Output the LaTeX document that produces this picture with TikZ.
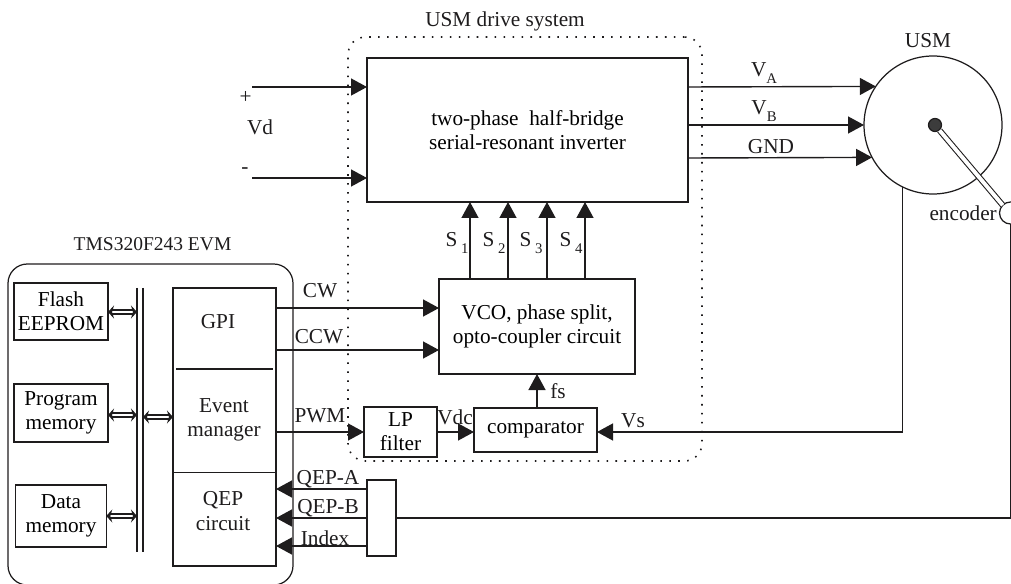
\documentclass[tikz,border=0pt]{standalone}
\usepackage{xcolor}
\usepackage{fontspec}
\setmainfont{Liberation Serif}
\usepackage{tikz}
\usetikzlibrary{arrows.meta,positioning}
\definecolor{edge}{HTML}{1E1C1D}
\definecolor{hub}{HTML}{3C3C3C}
\newcommand{\lowidx}[1]{\raisebox{-2pt}{\fontsize{4.2}{4.2}\selectfont #1}}

\begin{document}
\begin{tikzpicture}[font=\fontsize{6.05}{6.9}\selectfont,
  box/.style={draw=edge, line width=0.35pt, align=center, inner sep=0pt, outer sep=0pt},
  lbl/.style={inner sep=0pt, align=center, text=edge},
  arr/.style={-{Triangle[length=1.6mm,width=1.7mm]}, line width=0.4pt, draw=edge},
  wire/.style={line width=0.4pt, draw=edge},
  bus/.style={{Stealth[length=0.6mm,width=1.3mm]}-{Stealth[length=0.6mm,width=1.3mm]}, double=white, double distance=0.6pt, line width=0.42pt, draw=edge}]
\useasboundingbox (0,0) rectangle (10.11,5.83);
% enclosures
\node[box, rounded corners=5pt, dash pattern=on 0.45pt off 2.1pt, line width=0.45pt, minimum width=3.54cm, minimum height=4.24cm] (drive) at (5.25,3.34) {};
\node[box, rounded corners=5.5pt, minimum width=2.85cm, minimum height=3.21cm] (evm) at (1.505,1.585) {};
\node[lbl] (drivelbl) at (5.05,5.62) {USM drive system};
\node[lbl, font=\fontsize{5.55}{6.9}\selectfont] (evmlbl) at (1.525,3.39) {TMS320F243 EVM};
% power stage
\node[box, minimum width=3.21cm, minimum height=1.44cm] (inv) at (5.275,4.53) {two-phase\ \ half-bridge\\serial-resonant inverter};
\node[box, below=0.77cm of inv, xshift=0.095cm, minimum width=1.96cm, minimum height=0.95cm] (vco) {VCO, phase split,\\opto-coupler circuit};
\node[box, below=0.34cm of vco, xshift=-0.015cm, minimum width=1.23cm, minimum height=0.44cm] (comp) {comparator};
\node[box, left=0.37cm of comp, line width=0.55pt, minimum width=0.73cm, minimum height=0.50cm, yshift=-0.02cm] (lp) {LP\\filter};
% motor
\node[box, circle, minimum size=1.38cm] (usm) at (9.33,4.58) {};
\node[lbl] (usmlbl) at (9.28,5.42) {USM};
\node[box, circle, fill=white, minimum size=0.22cm] (enc) at (10.105,3.70) {};
\node[lbl, left=0.02cm of enc] (enclbl) {encoder};
\node[circle, draw=edge, line width=0.35pt, fill=hub, inner sep=0pt, minimum size=0.13cm] (shaft) at (9.35,4.58) {};
\draw[edge, line width=0.3pt, double=white, double distance=1.1pt] (shaft) -- (enc.135);
% memories and DSP
\node[box, minimum width=0.94cm, minimum height=0.57cm] (flash) at (0.61,2.715) {Flash\\EEPROM};
\node[box, below=0.44cm of flash, minimum width=0.94cm, minimum height=0.58cm] (prog) {Program\\memory};
\node[box, below=0.43cm of prog, minimum width=0.905cm, minimum height=0.62cm] (data) {Data\\memory};
\node[box, minimum width=1.03cm, minimum height=2.78cm] (dsp) at (2.245,1.56) {};
\node[lbl] (gpi) at (2.18,2.61) {GPI};
\node[lbl] (event) at (2.24,1.63) {Event\\manager};
\node[lbl] (qep) at (2.23,0.72) {QEP\\circuit};
\draw[wire] (1.76,2.14) -- (2.73,2.14);
\draw[wire, line width=0.25pt] (dsp.west |- 0,1.11) -- (dsp.east |- 0,1.11);
\coordinate (busa) at (1.37,2.95);
\coordinate (busb) at (1.37,0.31);
\coordinate (busc) at (1.43,2.95);
\coordinate (busd) at (1.43,0.31);
\draw[wire] (busa) -- (busb);
\draw[wire] (busc) -- (busd);
\draw[bus] (flash.east |- 0,2.71) -- (1.37,2.71);
\draw[bus] (prog.east |- 0,1.68) -- (1.37,1.68);
\draw[bus] (data.east |- 0,0.67) -- (1.37,0.67);
\draw[bus] (1.43,1.66) -- (dsp.west |- 0,1.66);
\node[box, minimum width=0.29cm, minimum height=0.76cm] (decod) at (3.815,0.65) {};
% signals
\coordinate (vdp) at (2.52,4.96);
\coordinate (vdm) at (2.52,4.05);
\coordinate (va) at (inv.east |- 0,4.96);
\coordinate (vb) at (inv.east |- 0,4.58);
\coordinate (vg) at (inv.east |- 0,4.25);
\coordinate (cw) at (dsp.east |- 0,2.75);
\coordinate (ccw) at (dsp.east |- 0,2.33);
\coordinate (pwm) at (dsp.east |- lp.west);
\draw[arr] (vdp) -- (vdp -| inv.west);
\draw[arr] (vdm) -- (vdm -| inv.west);
\draw[arr] (va) -- (usm.146.6);
\draw[arr] (vb) -- (usm.west |- vb);
\draw[arr] (vg) -- (usm.208.6);
\draw[arr] (cw) -- (cw -| vco.west);
\draw[arr] (ccw) -- (ccw -| vco.west);
\draw[arr] (pwm) -- (lp.west);
\draw[arr] (lp.east) -- (lp.east -| comp.west);
\draw[arr] (usm.244.2) |- (comp.east |- lp.east);
\draw[arr] (vco.south |- comp.north) -- (vco.south);
\foreach \i/\x in {1/4.70,2/5.08,3/5.47,4/5.85}
  \draw[arr] (\x,0 |- vco.north) -- (\x,0 |- inv.south);
\draw[wire] (enc.south) |- (decod.east);
\draw[arr] (decod.west |- 0,0.94) -- (dsp.east |- 0,0.94);
\draw[arr] (decod.west |- 0,0.65) -- (dsp.east |- 0,0.65);
\draw[arr] (decod.west |- 0,0.37) -- (dsp.east |- 0,0.37);
% labels
\node[lbl] (plus) at (2.455,4.86) {+};
\node[lbl] (vdlbl) at (2.60,4.56) {Vd};
\node[lbl] (minus) at (2.45,4.12) {-};
\node[lbl] (valbl) at (7.64,5.10) {V\lowidx{A}};
\node[lbl] (vblbl) at (7.64,4.72) {V\lowidx{B}};
\node[lbl] (gndlbl) at (7.71,4.36) {GND};
\node[lbl] (s1) at (4.57,3.40) {S\,\lowidx{1}};
\node[lbl] (s2) at (4.94,3.40) {S\,\lowidx{2}};
\node[lbl] (s3) at (5.31,3.40) {S\,\lowidx{3}};
\node[lbl] (s4) at (5.71,3.40) {S\,\lowidx{4}};
\node[lbl] (cwlbl) at (3.20,2.92) {CW};
\node[lbl] (ccwlbl) at (3.19,2.46) {CCW};
\node[lbl] (pwmlbl) at (3.20,1.67) {PWM};
\node[lbl] (vdclbl) at (4.55,1.66) {Vdc};
\node[lbl] (fslbl) at (5.58,1.92) {fs};
\node[lbl] (vslbl) at (6.33,1.62) {Vs};
\node[lbl] (qealbl) at (3.28,1.04) {QEP-A};
\node[lbl] (qeblbl) at (3.28,0.75) {QEP-B};
\node[lbl] (idxlbl) at (3.25,0.45) {Index};
\end{tikzpicture}
\end{document}
